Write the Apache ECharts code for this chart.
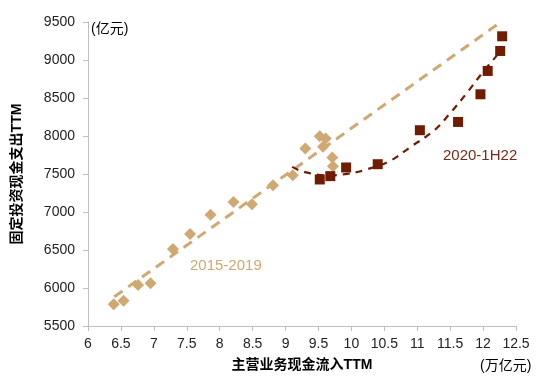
<!DOCTYPE html>
<html>
<head>
<meta charset="utf-8">
<script src="https://cdn.jsdelivr.net/npm/echarts@6/dist/echarts.min.js"></script>
<style>html,body{margin:0;padding:0;background:#fff}#c{width:550px;height:384px}</style>
</head>
<body>
<div id="c"></div>
<script>
// 2015-2019 points: [主营业务现金流入TTM (万亿元), 固定投资现金支出TTM (亿元)]
var tanX = [6.39, 6.54, 6.76, 6.95, 7.29, 7.55, 7.86, 8.21, 8.49, 8.81, 9.11, 9.30, 9.52, 9.61, 9.57, 9.71, 9.72];
var tanY = [5785, 5833, 6039, 6061, 6512, 6709, 6963, 7130, 7103, 7353, 7485, 7836, 7997, 7967, 7857, 7717, 7603];
// 2020-1H22 points
var redX = [9.52, 9.68, 9.92, 10.40, 11.04, 11.62, 11.96, 12.07, 12.26, 12.29];
var redY = [7428, 7472, 7586, 7629, 8076, 8185, 8549, 8856, 9119, 9312];
// linear trend (2015-2019), endpoints
var tanTrendX = [6.40, 12.27];
var tanTrendY = [5885, 9500];
// polynomial trend (2020-1H22)
var redTrendX = [9.10, 9.28, 9.65, 9.96, 10.19, 10.57, 10.90, 11.26, 11.49, 11.77, 12.00, 12.27];
var redTrendY = [7594, 7528, 7482, 7505, 7550, 7665, 7857, 8076, 8290, 8585, 8843, 9120];
// axis ticks
var xMin = 6, xMax = 12.5, xStep = 0.5;
var yMin = 5500, yMax = 9500, yStep = 500;

function zip(a, b) { return a.map(function (v, i) { return [v, b[i]]; }); }

var TAN = '#D0A872';
var RED = '#701C02';
var FONT = '"Liberation Sans", Arial, "Noto Sans CJK SC", sans-serif';

var chart = echarts.init(document.getElementById('c'));
chart.setOption({
  animation: false,
  textStyle: { fontFamily: FONT },
  grid: { left: 88, right: 34, top: 22, bottom: 58 },
  xAxis: {
    type: 'value', min: xMin, max: xMax, interval: xStep,
    name: '主营业务现金流入TTM', nameLocation: 'middle', nameGap: 32,
    nameTextStyle: { fontFamily: FONT, fontSize: 14, fontWeight: 'bold', color: '#000' },
    axisLine: { show: true, lineStyle: { color: '#BFBFBF', width: 1 } },
    axisTick: { show: true, length: 5, lineStyle: { color: '#BFBFBF' } },
    axisLabel: { fontSize: 14, color: '#222', margin: 11, fontFamily: FONT, formatter: function (v) { return String(v); } },
    splitLine: { show: false }
  },
  yAxis: {
    type: 'value', min: yMin, max: yMax, interval: yStep,
    name: '固定投资现金支出TTM', nameLocation: 'middle', nameGap: 64, nameRotate: 90,
    nameTextStyle: { fontFamily: FONT, fontSize: 14, fontWeight: 'bold', color: '#000' },
    axisLine: { show: true, lineStyle: { color: '#BFBFBF', width: 1 } },
    axisTick: { show: true, length: 5, lineStyle: { color: '#BFBFBF' } },
    axisLabel: { fontSize: 14, color: '#222', margin: 13, fontFamily: FONT, formatter: function (v) { return String(v); } },
    splitLine: { show: false }
  },
  series: [
    {
      type: 'line', data: zip(tanTrendX, tanTrendY), showSymbol: false, symbol: 'none',
      lineStyle: { color: TAN, width: 3, type: [10, 7] }, z: 2, silent: true
    },
    {
      type: 'scatter', data: zip(tanX, tanY), symbol: 'diamond', symbolSize: 12,
      itemStyle: { color: TAN, opacity: 1 }, z: 3
    },
    {
      type: 'scatter', data: zip(redX, redY), symbol: 'rect', symbolSize: 10,
      itemStyle: { color: RED, opacity: 1 }, z: 4
    },
    {
      type: 'line', data: zip(redTrendX, redTrendY), showSymbol: false, symbol: 'none', smooth: 0.4,
      lineStyle: { color: RED, width: 2.2, type: [7, 6] }, z: 5, silent: true
    }
  ],
  graphic: [
    { type: 'text', left: 91, top: 22, style: { text: '(亿元)', font: '14px ' + FONT, fill: '#000' } },
    { type: 'text', left: 480, top: 359, style: { text: '(万亿元)', font: '14px ' + FONT, fill: '#000' } },
    { type: 'text', left: 190, top: 258, style: { text: '2015-2019', font: '15px ' + FONT, fill: TAN } },
    { type: 'text', left: 443, top: 148, style: { text: '2020-1H22', font: '15px ' + FONT, fill: '#7A2A18' } }
  ]
});
</script>
</body>
</html>
